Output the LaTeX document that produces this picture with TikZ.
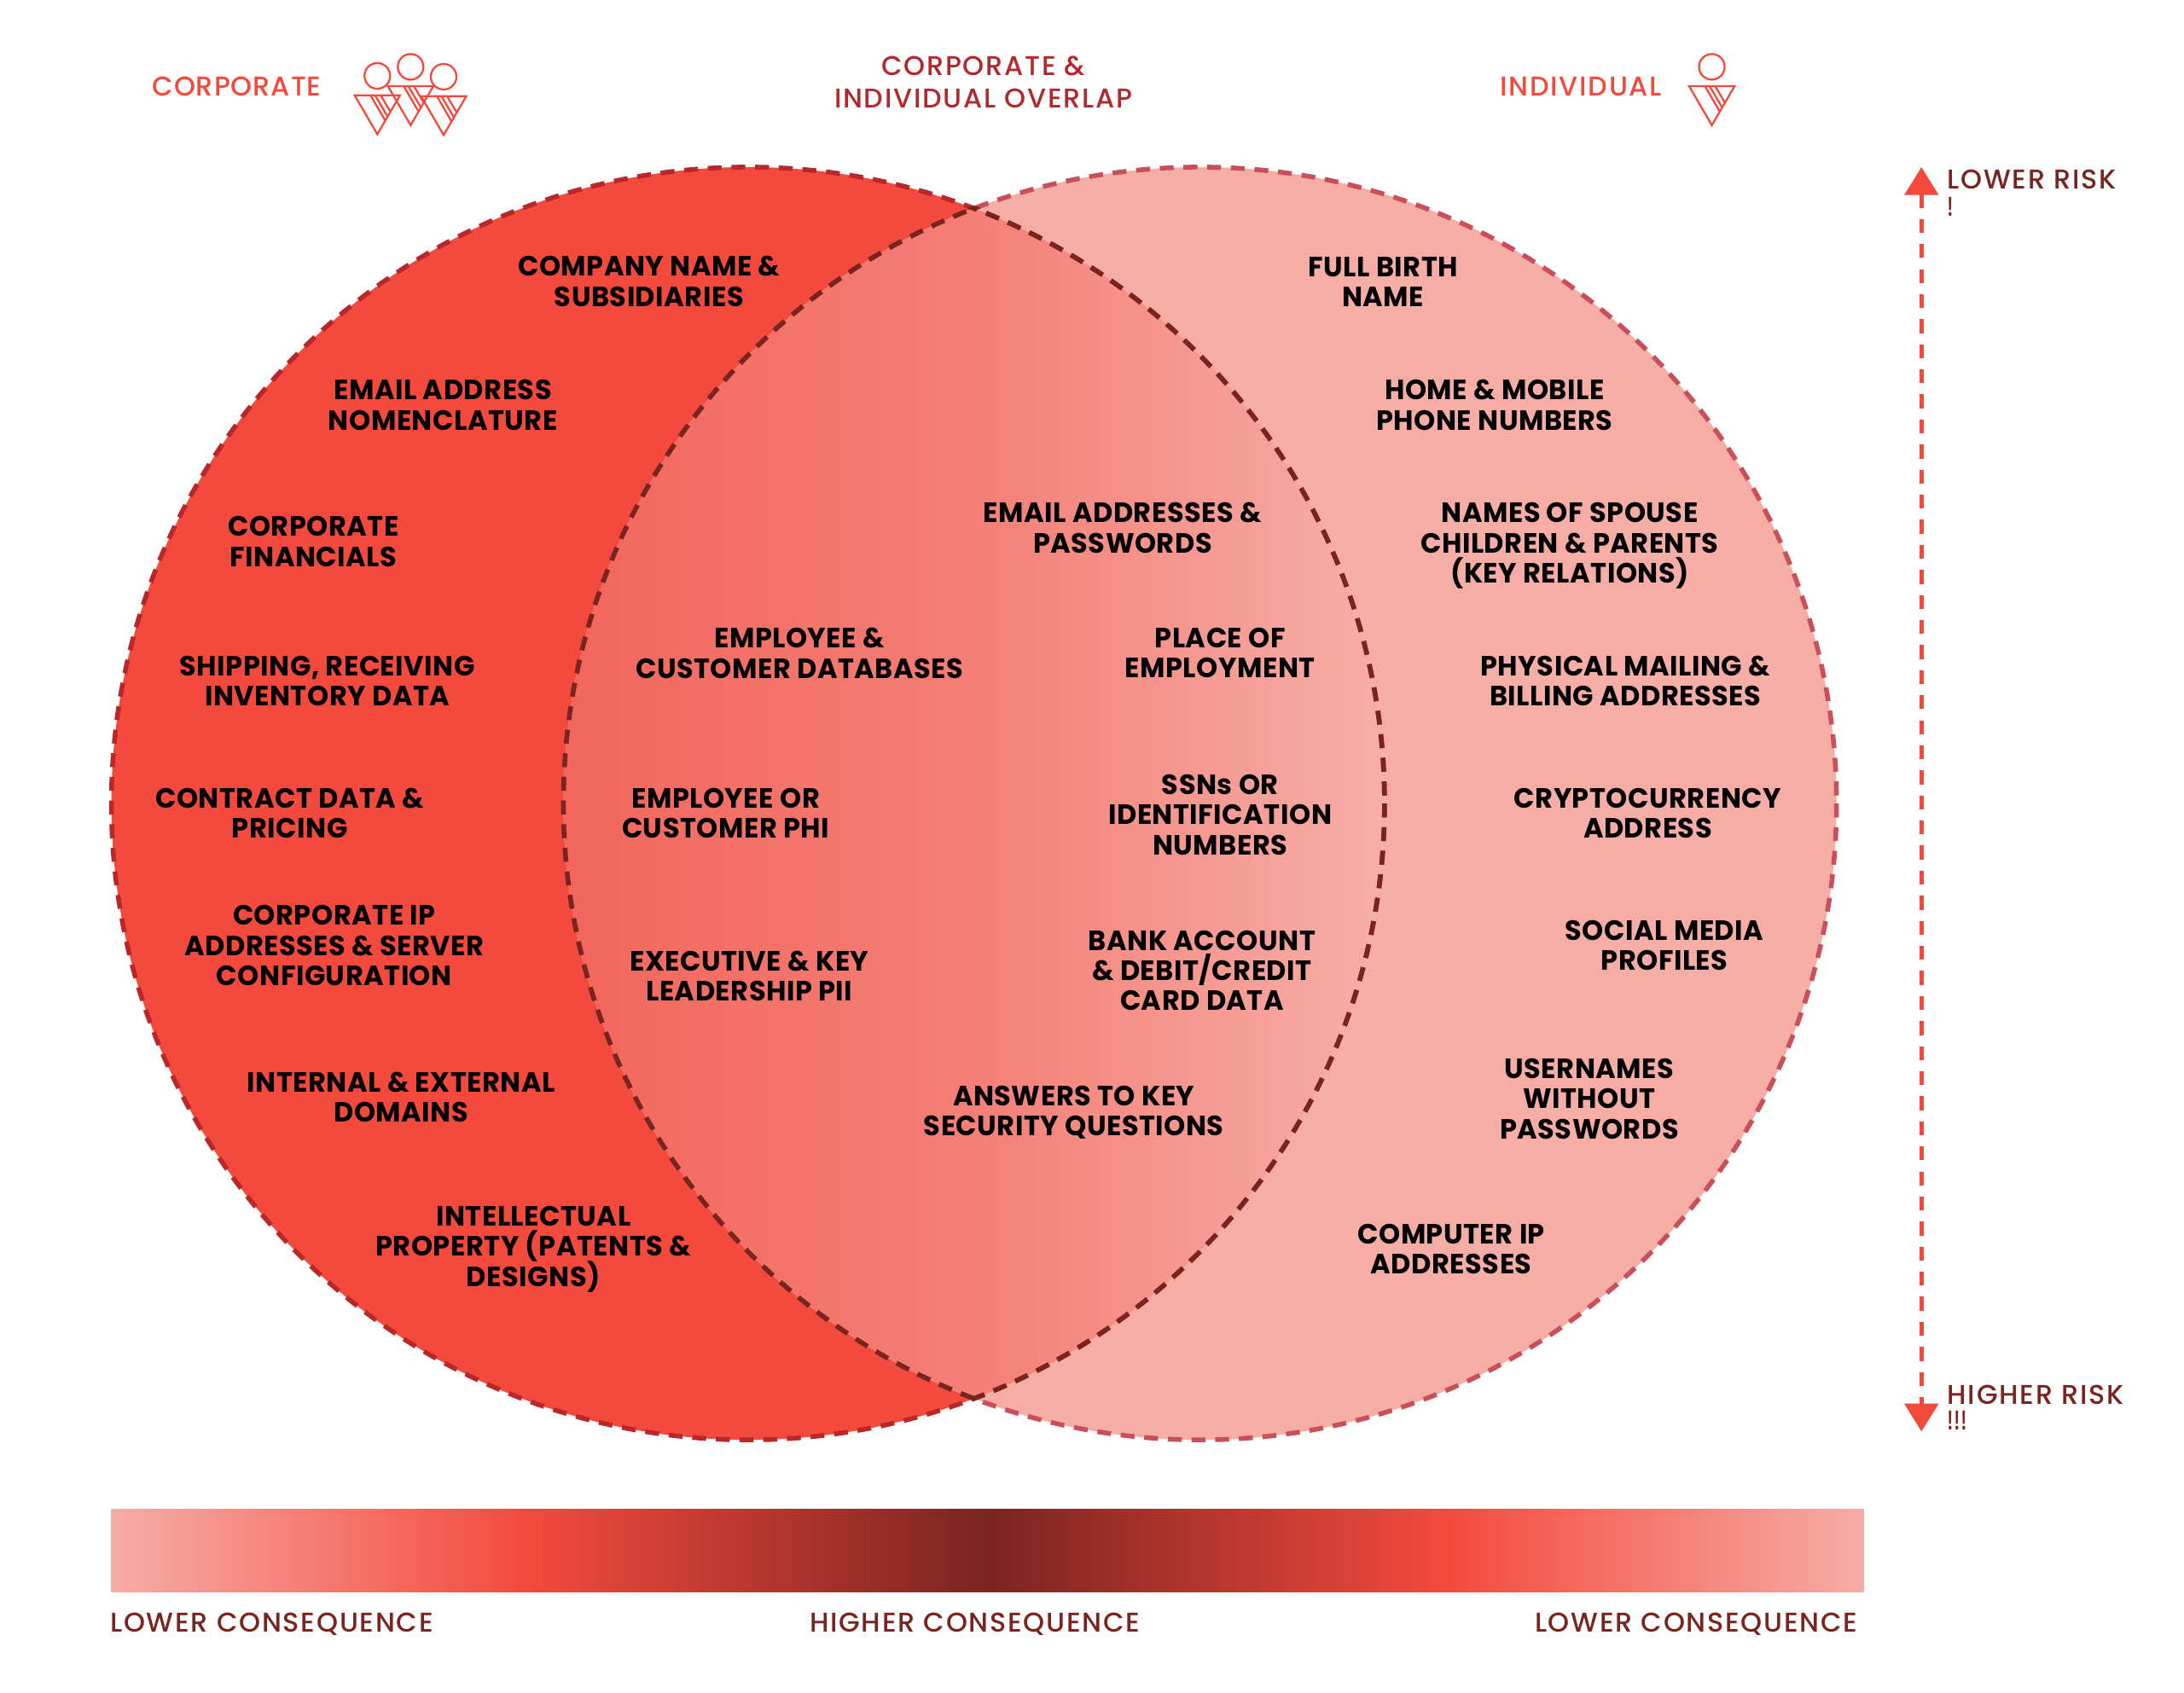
\documentclass[tikz,border=0pt]{standalone}
\usepackage{fontspec}
\usetikzlibrary{arrows.meta}
\newfontfamily\labfont[FakeStretch=0.98,LetterSpace=1.6]{Poppins Bold}
\newfontfamily\headfont[LetterSpace=5.5]{Poppins Medium}
\newfontfamily\corpfont[LetterSpace=3]{Poppins Medium}
\newfontfamily\bangfont[FakeStretch=0.75]{Poppins Medium}
\definecolor{corp}{HTML}{F44A3E}
\definecolor{indiv}{HTML}{F6ADA6}
\definecolor{corpedge}{HTML}{B8282B}
\definecolor{indivedge}{HTML}{C9505A}
\definecolor{deep}{HTML}{7A2420}
\definecolor{midhead}{HTML}{B3282D}
\definecolor{ovA}{HTML}{F2665C}
\definecolor{ovB}{HTML}{F47F76}
\definecolor{ovC}{HTML}{F6AFA8}
\pgfdeclarehorizontalshading{overlapshade}{100bp}{color(0bp)=(ovA); color(25bp)=(ovA); color(50bp)=(ovB); color(75bp)=(ovC); color(100bp)=(ovC)}
\pgfdeclarehorizontalshading{barshade}{100bp}{color(0bp)=(indiv); color(25bp)=(indiv); color(36.75bp)=(corp); color(50bp)=(deep); color(63.15bp)=(corp); color(75bp)=(indiv); color(100bp)=(indiv)}
\tikzset{
  x=1pt,y=-1pt,
  lab/.style={font=\labfont\fontsize{20}{21.7}\selectfont,align=center,inner sep=0pt,text=black},
  headlab/.style={font=\headfont\fontsize{19.5}{23}\selectfont,align=center,inner sep=0pt},
  darklab/.style={font=\headfont\fontsize{19.5}{18.5}\selectfont,inner sep=0pt,text=deep},
  venn/.style={line width=3.4pt,dash pattern=on 10pt off 7pt},
  iconline/.style={draw=corp,line width=1.4pt,line join=miter},
  person/.pic={
    \draw[iconline] (0,0) circle [radius=9.2];
    \draw[iconline] (-16.3,13.9) -- (16.3,13.9) -- (0,41.9) -- cycle;
    \draw[iconline] (-4.9,13.9) -- (5.7,32.1) (-1.6,13.9) -- (7.4,29.2) (2.4,13.9) -- (9.4,25.7);
  }
}
\begin{document}
\lineskiplimit=-8pt
\begin{tikzpicture}
\useasboundingbox (0,0) rectangle (1568,1215.8);
% circles
\fill[corp] (537,577) circle [radius=457];
\fill[indiv] (861.5,577) circle [radius=457];
\begin{scope}
  \clip (537,577) circle [radius=457];
  \clip (861.5,577) circle [radius=457];
  \shade[shading=overlapshade] (404.5,100) rectangle (994,1050);
\end{scope}
\draw[venn,draw=corpedge] (537,577) circle [radius=457];
\draw[venn,draw=indivedge] (861.5,577) circle [radius=457];
\begin{scope}
  \clip (537,577) circle [radius=459];
  \draw[venn,draw=deep] (861.5,577) circle [radius=457];
\end{scope}
\begin{scope}
  \clip (861.5,577) circle [radius=459];
  \draw[venn,draw=deep] (537,577) circle [radius=457];
\end{scope}
% bar
\shade[shading=barshade] (80,1083.5) rectangle (1338,1143);
% arrow
\coordinate (riskTop) at (1379.5,120);
\coordinate (riskBot) at (1379.5,1028);
\draw[corp,line width=2.9pt,dash pattern=on 10pt off 8pt,{Triangle[length=20pt,width=24pt]}-{Triangle[length=20pt,width=24pt]}] (riskTop) -- (riskBot);
% icons
\pic at (270.9,54.5) {person};
\pic at (294.8,48) {person};
\pic at (318.5,55.1) {person};
\pic at (1229,48) {person};
% headers
\node[headlab,text=corp,font=\corpfont\fontsize{19.5}{23}\selectfont] (hCorp) at (170,62) {CORPORATE};
\node[headlab,text=midhead] (hMid) at (706,59) {CORPORATE \&\\INDIVIDUAL OVERLAP};
\node[headlab,text=corp] (hInd) at (1135,62) {INDIVIDUAL};
\node[darklab,anchor=base west] (lowR) at (1398,135.5) {LOWER RISK};
\node[darklab,anchor=base west,font=\bangfont\fontsize{19.5}{18.5}\selectfont] (lowX) at (1398,155) {!};
\node[darklab,anchor=base west] (hiR) at (1398,1008.5) {HIGHER RISK};
\node[darklab,anchor=base west,font=\bangfont\fontsize{19.5}{18.5}\selectfont] (hiX) at (1398,1027) {!!!};
\node[darklab,anchor=base west] (cL) at (79,1172) {LOWER CONSEQUENCE};
\node[darklab,anchor=base] (cM) at (700,1172) {HIGHER CONSEQUENCE};
\node[darklab,anchor=base east] (cR) at (1334,1172) {LOWER CONSEQUENCE};
% left labels
\node[lab] (a1) at (466,202) {COMPANY NAME \&\\SUBSIDIARIES};
\node[lab] (a2) at (318,291) {EMAIL ADDRESS\\NOMENCLATURE};
\node[lab] (a3) at (225,389) {CORPORATE\\FINANCIALS};
\node[lab] (a4) at (235,489) {SHIPPING, RECEIVING\\INVENTORY DATA};
\node[lab] (a5) at (208,584) {CONTRACT DATA \&\\PRICING};
\node[lab] (a6) at (240,679) {CORPORATE IP\\ADDRESSES \& SERVER\\CONFIGURATION};
\node[lab] (a7) at (288,788) {INTERNAL \& EXTERNAL\\DOMAINS};
\node[lab] (a8) at (383,897) {INTELLECTUAL\\PROPERTY (PATENTS \&\\DESIGNS)};
% middle labels
\node[lab] (b1) at (574,469) {EMPLOYEE \&\\CUSTOMER DATABASES};
\node[lab] (b2) at (521,584) {EMPLOYEE OR\\CUSTOMER PHI};
\node[lab] (b3) at (538,701) {EXECUTIVE \& KEY\\LEADERSHIP PII};
\node[lab] (b4) at (806,379) {EMAIL ADDRESSES \&\\PASSWORDS};
\node[lab] (b5) at (876,469) {PLACE OF\\EMPLOYMENT};
\node[lab] (b6) at (876,585) {SSNs OR\\IDENTIFICATION\\NUMBERS};
\node[lab] (b7) at (863,697) {BANK ACCOUNT\\\& DEBIT/CREDIT\\CARD DATA};
\node[lab] (b8) at (771,799) {ANSWERS TO KEY\\SECURITY QUESTIONS};
% right labels
\node[lab] (c1) at (993,202.5) {FULL BIRTH\\NAME};
\node[lab] (c2) at (1073,291) {HOME \& MOBILE\\PHONE NUMBERS};
\node[lab] (c3) at (1127,392) {NAMES OF SPOUSE\\CHILDREN \& PARENTS\\(KEY RELATIONS)};
\node[lab] (c4) at (1167,489) {PHYSICAL MAILING \&\\BILLING ADDRESSES};
\node[lab] (c5) at (1183,584) {CRYPTOCURRENCY\\ADDRESS};
\node[lab] (c6) at (1195,679) {SOCIAL MEDIA\\PROFILES};
\node[lab] (c7) at (1141,789) {USERNAMES\\WITHOUT\\PASSWORDS};
\node[lab] (c8) at (1042,897) {COMPUTER IP\\ADDRESSES};
\end{tikzpicture}
\end{document}
